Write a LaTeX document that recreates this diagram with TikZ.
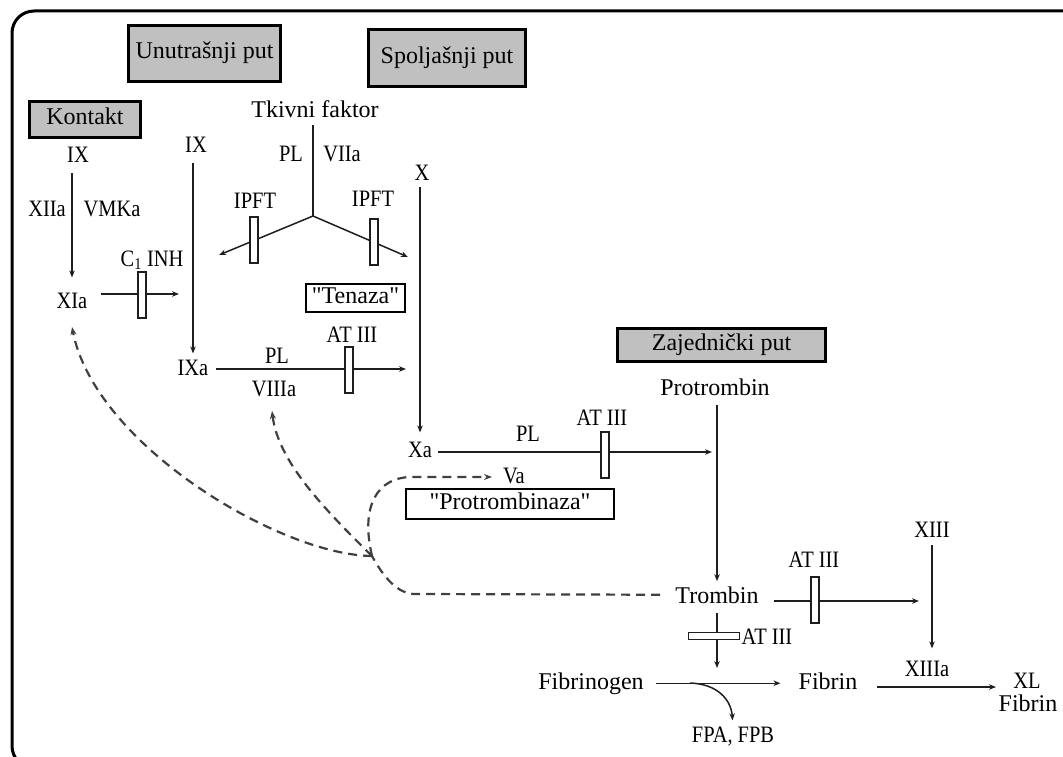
\documentclass[tikz,border=0pt]{standalone}
\usepackage{fontspec}
\setmainfont{Liberation Serif}[Ligatures=TeXOff]
\newfontfamily\labfont{Liberation Serif}[FakeStretch=0.87,Ligatures=TeXOff]
\usetikzlibrary{arrows.meta}
\definecolor{boxgray}{RGB}{192,192,192}
\definecolor{ink}{RGB}{30,30,30}
\begin{document}
\begin{tikzpicture}[x=1pt,y=-1pt,
  big/.style={font=\fontsize{24}{28}\selectfont, inner sep=1pt, anchor=base},
  lab/.style={font=\labfont\fontsize{23.5}{28}\selectfont, inner sep=1pt, anchor=base},
  gbox/.style={draw=black, line width=3pt, fill=boxgray, font=\fontsize{24}{28}\selectfont, text height=16pt, text depth=5pt, inner sep=0pt},
  wbox/.style={draw=black, line width=2pt, fill=white, font=\fontsize{24}{28}\selectfont, text height=16pt, text depth=5pt, inner sep=0pt},
  vbar/.style={draw=ink, line width=1.8pt, fill=white, minimum width=8pt, minimum height=46pt, inner sep=0pt},
  hbar/.style={draw=ink, line width=1.8pt, fill=white, minimum width=51pt, minimum height=7pt, inner sep=0pt},
  conn/.style={draw=ink, line width=1.5pt},
  arr/.style={conn, -{Stealth[length=7pt,width=5.5pt]}},
  dsh/.style={draw=ink!85, line width=2.2pt, dash pattern=on 9pt off 6pt},
  darr/.style={dsh, -{Stealth[length=8pt,width=6pt]}}
]
\useasboundingbox (0,0) rectangle (1063,757);
% frame
\draw[line width=3pt, rounded corners=22pt] (80,768) -- (12,768) -- (12,11) -- (1100,11);

% header boxes
\node[gbox, minimum width=152pt, minimum height=56pt] (unut) at (204.5,53.5) {Unutrašnji put};
\node[gbox, minimum width=157pt, minimum height=57pt] (spolj) at (447,58) {Spoljašnji put};
\node[gbox, minimum width=111pt, minimum height=36pt] (kont) at (85,119.5) {Kontakt};
\node[gbox, minimum width=208pt, minimum height=33pt] (zaj) at (721.5,345) {Zajednički put};
\node[wbox, minimum width=99pt, minimum height=28pt] (tenaza) at (355.5,298) {"Tenaza"};
\node[wbox, minimum width=208pt, minimum height=30pt] (protbz) at (510,504) {"Protrombinaza"};

% text nodes
\node[lab] (IXone) at (78,163) {IX};
\node[lab] (XIIa) at (47,216) {XIIa};
\node[lab] (VMKa) at (112,216) {VMKa};
\node[lab] (XIa) at (72,308) {XIa};
\node[lab] (cinh) at (152,266) {C\textsubscript{1} INH};
\node[lab] (IXtwo) at (196,153) {IX};
\node[lab] (IXa) at (193,375) {IXa};
\node[big] (tkivni) at (315,118) {Tkivni faktor};
\node[lab] (PLone) at (291,161) {PL};
\node[lab] (VIIa) at (342,161) {VIIa};
\node[lab] (ipftL) at (255,208) {IPFT};
\node[lab] (ipftR) at (373,206) {IPFT};
\node[lab] (X) at (422,180) {X};
\node[lab] (atA) at (352,342) {AT III};
\node[lab] (PLtwo) at (277,363) {PL};
\node[lab] (VIIIa) at (274,396) {VIIIa};
\node[lab] (Xa) at (420,457) {Xa};
\node[lab] (PLthree) at (528,441) {PL};
\node[lab] (atB) at (602,425) {AT III};
\node[lab] (Va) at (514,483) {Va};
\node[big] (protrombin) at (715,395) {Protrombin};
\node[big] (trombin) at (717,603) {Trombin};
\node[lab] (XIII) at (932,537) {XIII};
\node[lab] (atC) at (814,567) {AT III};
\node[lab] (atD) at (767,644) {AT III};
\node[lab] (XIIIa) at (927,676) {XIIIa};
\node[big] (fibrinogen) at (591,689) {Fibrinogen};
\node[big] (fibrin) at (828,689) {Fibrin};
\node[lab] (XL) at (1027,688) {XL};
\node[big] (xlfibrin) at (1028,711) {Fibrin};
\node[lab] (fpa) at (733,742) {FPA, FPB};

% free ends
\coordinate (Jt) at (313,216);
\coordinate (ipL) at (219,255);
\coordinate (ipR) at (408,257);
\coordinate (xiaEnd) at (179,294);
\coordinate (ixaEnd) at (406,369);
\coordinate (xaEnd) at (712,452);
\coordinate (trEnd) at (919,601);
\coordinate (fgTip) at (716,668);
\coordinate (fpStart) at (690,683);
\coordinate (flEnd) at (996,687);
\coordinate (J) at (372,556);
\coordinate (xiaTip) at (72,327);
\coordinate (viiiTip) at (272,411);
\coordinate (vaTip) at (492,477);

% solid connectors
\draw[arr, shorten <=9pt, shorten >=14pt] (XIa.north |- IXone.south) -- (XIa.north);
\draw[arr, shorten <=12pt] (XIa.east |- xiaEnd) -- (xiaEnd);
\draw[arr, shorten <=9pt, shorten >=5pt] (IXa.north |- IXtwo.south) -- (IXa.north);
\draw[conn, shorten <=6pt] (Jt |- tkivni.south) -- (Jt);
\draw[arr] (Jt) -- (ipL);
\draw[arr] (Jt) -- (ipR);
\draw[arr, shorten <=6pt, shorten >=8pt] (Xa.north |- X.south) -- (Xa.north);
\draw[arr, shorten <=6pt] (IXa.east |- ixaEnd) -- (ixaEnd);
\draw[arr, shorten <=5pt] (Xa.east |- xaEnd) -- (xaEnd);
\draw[arr, shorten <=9pt, shorten >=4pt] (trombin.north |- protrombin.south) -- (trombin.north);
\draw[arr, shorten <=14pt] (trombin.east |- trEnd) -- (trEnd);
\draw[arr, shorten <=7pt, shorten >=11pt] (XIII.south) -- (XIII.south |- XIIIa.north);
\draw[arr, shorten <=9pt] (trombin.south) -- (trombin.south |- fgTip);
\draw[arr, shorten <=11pt, shorten >=17pt] (fibrinogen.east) -- (fibrinogen.east -| fibrin.west);
\draw[arr, shorten >=5pt] (fpStart) .. controls (718,684) and (731,700) .. (fpa.north);
\draw[arr, shorten <=18pt] (fibrin.east |- flEnd) -- (flEnd);

% dashed feedback
\draw[dsh, shorten <=14pt] (trombin.west) -- (415,594) .. controls (398,594) and (384,578) .. (J);
\draw[darr] (J) .. controls (280,555) and (95,445) .. (xiaTip);
\draw[darr] (J) .. controls (320,505) and (278,460) .. (viiiTip);
\draw[darr] (J) .. controls (360,505) and (378,478) .. (410,477) -- (vaTip);

% inhibitor bars
\node[vbar] (barA) at (142,295) {};
\node[vbar] (barB) at (254,240) {};
\node[vbar] (barC) at (374,242) {};
\node[vbar] (barD) at (349,370) {};
\node[vbar] (barE) at (605,455) {};
\node[vbar] (barF) at (815,600) {};
\node[hbar] (barG) at (714,636) {};
\end{tikzpicture}
\end{document}
